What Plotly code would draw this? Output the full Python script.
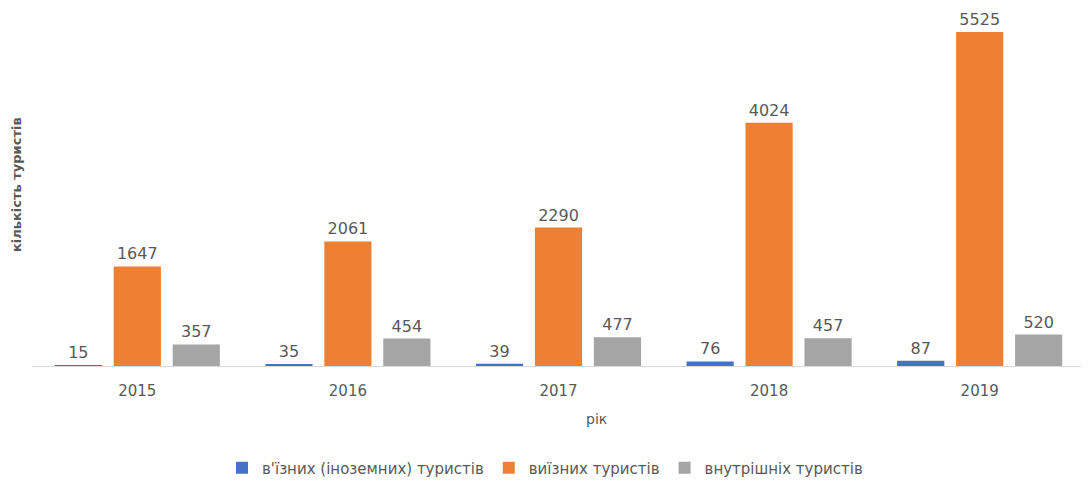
import plotly.graph_objects as go

years = ["2015", "2016", "2017", "2018", "2019"]
inbound = [15, 35, 39, 76, 87]
outbound = [1647, 2061, 2290, 4024, 5525]
domestic = [357, 454, 477, 457, 520]

names = ["в'їзних (іноземних) туристів", "виїзних туристів", "внутрішніх туристів"]
colors = ["#4472C4", "#EE7F33", "#A5A5A5"]

# page body has an 8px margin; figure coordinates = reference - 8
W, H = 1081, 478
L, R, T, B = 24, 4, 0, 120
pw, ph = W - L - R, H - T - B
FONT = "DejaVu Sans"

fig = go.Figure()
for name, vals, col in zip(names, [inbound, outbound, domestic], colors):
    fig.add_trace(go.Bar(
        x=years, y=vals, name=name, marker_color=col,
        marker_line_width=0,
        text=[str(v) for v in vals], textposition="outside",
        textfont=dict(size=16, color="#595959", family=FONT), cliponaxis=False,
    ))

fig.update_layout(
    width=W, height=H,
    paper_bgcolor="white", plot_bgcolor="white",
    margin=dict(l=L, r=R, t=T, b=B, autoexpand=False),
    barmode="group", bargap=0.16, bargroupgap=0.2,
    font=dict(family=FONT, color="#595959"),
    showlegend=True,
    legend=dict(orientation="h", x=(545 - 8 - L) / pw, xanchor="center",
                y=-(460 - 358) / ph, yanchor="middle",
                font=dict(size=15, color="#595959", family=FONT)),
    xaxis=dict(showline=True, linecolor="#D9D9D9", linewidth=1, ticks="",
               tickfont=dict(size=15, color="#595959", family=FONT), showgrid=False,
               ticklabelstandoff=11, automargin=False),
    yaxis=dict(range=[0, 358 * 5525 / 334], showticklabels=False, showgrid=False,
               zeroline=False, showline=False, automargin=False),
    annotations=[
        dict(text="рік", x=(596 - 8 - L) / pw, xref="paper", y=-(419 - 366) / ph, yref="paper",
             yanchor="middle", showarrow=False, font=dict(size=14, color="#595959", family=FONT)),
        dict(text="<b>кількість туристів</b>", x=(17 - 8 - L) / pw, xref="paper",
             y=(366 - 185) / ph, yref="paper", textangle=-90, showarrow=False,
             xanchor="center", yanchor="middle", font=dict(size=13, color="#595959", family=FONT)),
    ],
)
fig.write_html("out.html")
